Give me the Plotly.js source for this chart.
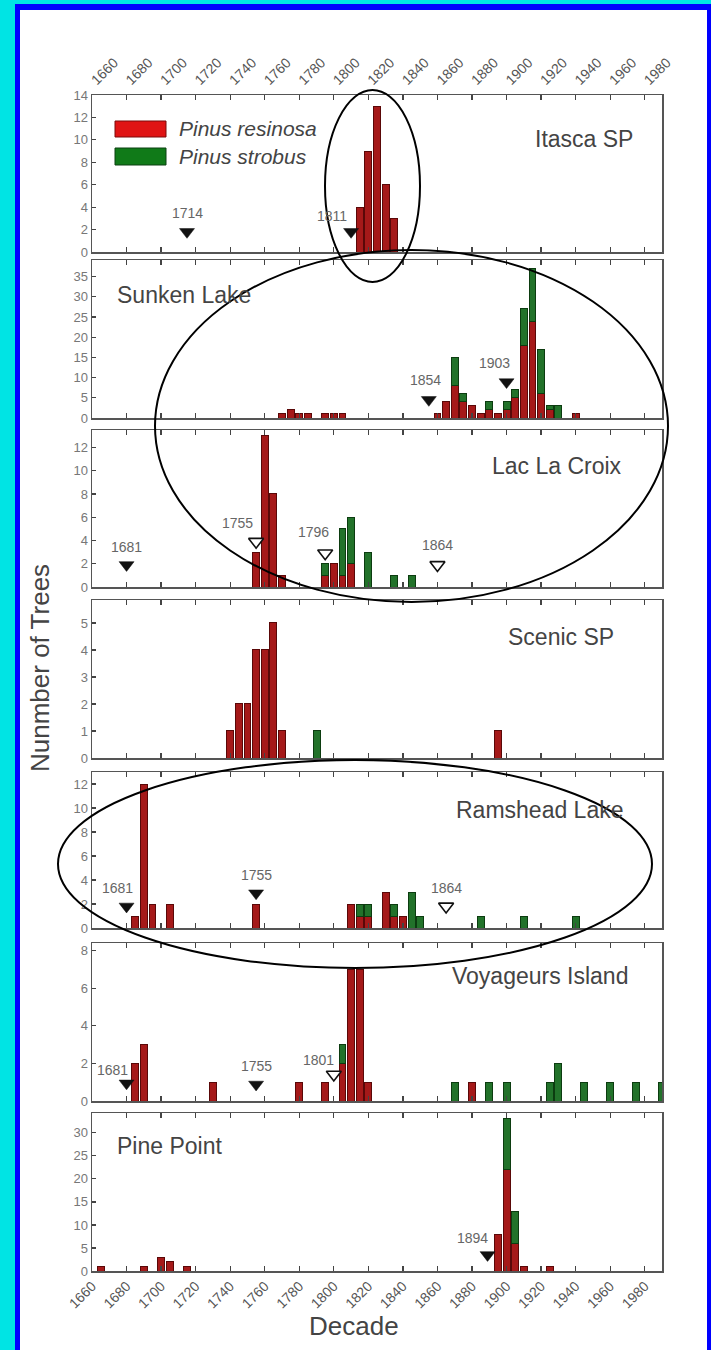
<!DOCTYPE html>
<html><head><meta charset="utf-8">
<script src="https://cdn.plot.ly/plotly-3.0.1.min.js"></script>
<style>
html,body{margin:0;padding:0;background:#00e4e4;width:711px;height:1350px;overflow:hidden;}
#frame{position:absolute;left:15px;top:4px;width:696px;height:1346px;box-sizing:border-box;background:#fff;border-left:5px solid #0000ff;border-top:6px solid #0000ff;border-right:4px solid #0000ff;}
#chart{position:absolute;left:0;top:0;width:711px;height:1350px;}
</style></head><body><div id="frame"></div><div id="chart"></div>
<script>
// ---------------- DATA ----------------
const siteNames = ['Itasca SP','Sunken Lake','Lac La Croix','Scenic SP','Ramshead Lake','Voyageurs Island','Pine Point'];
const speciesNames = ['Pinus resinosa','Pinus strobus'];
const xTickLabels = [1660,1680,1700,1720,1740,1760,1780,1800,1820,1840,1860,1880,1900,1920,1940,1960,1980];

const itascaYears = [1815,1820,1825,1830,1835];
const itascaRes   = [4,9,13,6,3];
const itascaStr   = [0,0,0,0,0];

const sunkenYears = [1770,1775,1780,1785,1795,1800,1805,1860,1865,1870,1875,1880,1885,1890,1895,1900,1905,1910,1915,1920,1925,1930,1940];
const sunkenRes   = [1,2,1,1,1,1,1,1,4,8,4,3,1,2,1,2,5,18,24,6,2,0,1];
const sunkenStr   = [0,0,0,0,0,0,0,0,0,7,2,0,0,2,0,2,2,9,13,11,1,3,0];

const lacYears = [1755,1760,1765,1770,1795,1800,1805,1810,1820,1835,1845];
const lacRes   = [3,13,8,1,1,2,1,2,0,0,0];
const lacStr   = [0,0,0,0,1,0,4,4,3,1,1];

const scenicYears = [1740,1745,1750,1755,1760,1765,1770,1790,1895];
const scenicRes   = [1,2,2,4,4,5,1,0,1];
const scenicStr   = [0,0,0,0,0,0,0,1,0];

const ramsYears = [1685,1690,1695,1705,1755,1810,1815,1820,1830,1835,1840,1845,1850,1885,1910,1940];
const ramsRes   = [1,12,2,2,2,2,1,1,3,1,1,0,0,0,0,0];
const ramsStr   = [0,0,0,0,0,0,1,1,0,1,0,3,1,1,1,1];

const voyYears = [1685,1690,1730,1780,1795,1805,1810,1815,1820,1870,1880,1890,1900,1925,1930,1945,1960,1975,1990];
const voyRes   = [2,3,1,1,1,2,7,7,1,0,1,0,0,0,0,0,0,0,0];
const voyStr   = [0,0,0,0,0,1,0,0,0,1,0,1,1,1,2,1,1,1,1];

const pineYears = [1665,1690,1700,1705,1715,1895,1900,1905,1910,1925];
const pineRes   = [1,1,3,2,1,8,22,6,1,1];
const pineStr   = [0,0,0,0,0,0,11,7,0,0];

// event markers: position, height, filled?, label, label position
const itascaMarkX = [1715,1810], itascaMarkY = [1.8,1.8], itascaMarkFill = [true,true];
const itascaLabel = ['1714','1811'], itascaLabelX = [1715,1799], itascaLabelY = [3.5,3.2];
const sunkenMarkX = [1855,1900], sunkenMarkY = [4.5,8.9], sunkenMarkFill = [true,true];
const sunkenLabel = ['1854','1903'], sunkenLabelX = [1853,1893], sunkenLabelY = [9.5,13.6];
const lacMarkX = [1680,1755,1795,1860], lacMarkY = [1.9,3.9,2.9,1.9], lacMarkFill = [true,false,false,false];
const lacLabel = ['1681','1755','1796','1864'], lacLabelX = [1680,1744,1788,1860], lacLabelY = [3.4,5.5,4.7,3.6];
const scenicMarkX = [], scenicMarkY = [], scenicMarkFill = [];
const scenicLabel = [], scenicLabelX = [], scenicLabelY = [];
const ramsMarkX = [1680,1755,1865], ramsMarkY = [1.8,2.9,1.8], ramsMarkFill = [true,true,false];
const ramsLabel = ['1681','1755','1864'], ramsLabelX = [1675,1755,1865], ramsLabelY = [3.3,4.4,3.3];
const voyMarkX = [1680,1755,1800], voyMarkY = [0.94,0.88,1.41], voyMarkFill = [true,true,false];
const voyLabel = ['1681','1755','1801'], voyLabelX = [1672,1755,1791], voyLabelY = [1.64,1.86,2.17];
const pineMarkX = [1889], pineMarkY = [3.5], pineMarkFill = [true];
const pineLabel = ['1894'], pineLabelX = [1880], pineLabelY = [7.1];

// ---------------- STYLE / LAYOUT ----------------
const RED = '#a51919', REDLINE = '#5a0808';
const GREEN = '#22722a', GREENLINE = '#0c3c10';
const W = 711, H = 1350, L = 92, R = 662, T = 95, B = 1271;
// panel pixel extents (top, bottom)
const panelPx = [[95,252],[260,418],[430,587],[600,758],[772,928],[943,1101],[1113,1271]];
const yMax = [14, 39.1, 13.5, 5.85, 13, 8.4, 34.3];
const yDtick = [2, 5, 2, 1, 2, 2, 5];
const nameAlign = ['right','left','right','right','right','right','left'];
const nameXpx = [635, 115, 624, 616, 626, 630, 115];
const nameYpx = [139, 295, 466, 637, 810, 976, 1146];

const panels = [
  [itascaYears,itascaRes,itascaStr,itascaMarkX,itascaMarkY,itascaMarkFill,itascaLabel,itascaLabelX,itascaLabelY],
  [sunkenYears,sunkenRes,sunkenStr,sunkenMarkX,sunkenMarkY,sunkenMarkFill,sunkenLabel,sunkenLabelX,sunkenLabelY],
  [lacYears,lacRes,lacStr,lacMarkX,lacMarkY,lacMarkFill,lacLabel,lacLabelX,lacLabelY],
  [scenicYears,scenicRes,scenicStr,scenicMarkX,scenicMarkY,scenicMarkFill,scenicLabel,scenicLabelX,scenicLabelY],
  [ramsYears,ramsRes,ramsStr,ramsMarkX,ramsMarkY,ramsMarkFill,ramsLabel,ramsLabelX,ramsLabelY],
  [voyYears,voyRes,voyStr,voyMarkX,voyMarkY,voyMarkFill,voyLabel,voyLabelX,voyLabelY],
  [pineYears,pineRes,pineStr,pineMarkX,pineMarkY,pineMarkFill,pineLabel,pineLabelX,pineLabelY]
];

const px2x = p => (p - L) / (R - L);
const px2y = p => (B - p) / (B - T);

const FONT = 'Liberation Sans, Arial, sans-serif';
const traces = [], annotations = [], shapes = [];
const layout = {
  width: W, height: H,
  margin: {l: L, r: W - R, t: T, b: H - B, pad: 0},
  paper_bgcolor: 'rgba(0,0,0,0)', plot_bgcolor: '#ffffff',
  barmode: 'stack', bargap: 0, showlegend: false,
  font: {family: FONT, color: '#555'},
  annotations: annotations, shapes: shapes
};

panels.forEach((p, i) => {
  const k = i === 0 ? '' : String(i + 1);
  const xa = 'x' + k, ya = 'y' + k;
  const [yrs, res, str, mx, my, mf, lab, lx, ly] = p;
  traces.push({type: 'bar', x: yrs, y: res.map(v => v || null), xaxis: xa, yaxis: ya, width: 4,
    name: speciesNames[0], marker: {color: RED, line: {color: REDLINE, width: 1}}, hoverinfo: 'x+y'});
  traces.push({type: 'bar', x: yrs, y: str.map(v => v || null), xaxis: xa, yaxis: ya, width: 4,
    name: speciesNames[1], marker: {color: GREEN, line: {color: GREENLINE, width: 1}}, hoverinfo: 'x+y'});
  if (mx.length) {
    traces.push({type: 'scatter', mode: 'markers', x: mx, y: my, xaxis: xa, yaxis: ya, cliponaxis: false,
      marker: {symbol: 'triangle-down', size: 13, color: mf.map(f => f ? '#111' : '#fff'),
               line: {color: '#111', width: mf.map(f => f ? 0.5 : 1.6)}}, hoverinfo: 'skip'});
    lab.forEach((t, j) => annotations.push({xref: xa, yref: ya, x: lx[j], y: ly[j], text: t, showarrow: false,
      font: {size: 14, color: '#666', family: FONT}, xanchor: 'center', yanchor: 'middle'}));
  }
  const [top, bot] = panelPx[i];
  layout['xaxis' + k] = {
    anchor: ya, domain: [0, 1], range: [1660, 1990], tickvals: xTickLabels, ticktext: xTickLabels.map(String),
    ticks: 'inside', ticklen: 5, tickwidth: 1.2, tickcolor: '#444', showline: true, linecolor: '#555', linewidth: 1.5,
    mirror: 'ticks', showgrid: false, zeroline: false,
    showticklabels: (i === 0 || i === 6), side: i === 0 ? 'top' : 'bottom', tickangle: -45,
    tickfont: {size: 14, color: '#555', family: FONT}
  };
  if (i > 0) layout['xaxis' + k].matches = 'x';
  layout['yaxis' + k] = {
    anchor: xa, domain: [(B - bot) / (B - T), (B - top) / (B - T)], range: [0, yMax[i]], dtick: yDtick[i], tick0: 0,
    ticks: 'inside', ticklen: 4, tickwidth: 1.2, tickcolor: '#444', showline: true, linecolor: '#555', linewidth: 1.5,
    mirror: true, showgrid: false, zeroline: false, tickfont: {size: 13, color: '#777', family: FONT}
  };
  annotations.push({xref: 'paper', yref: 'paper', x: px2x(nameXpx[i]), y: px2y(nameYpx[i]), text: siteNames[i],
    showarrow: false, xanchor: nameAlign[i], yanchor: 'middle', font: {size: 23, color: '#444', family: FONT}});
});

// legend (drawn in the Itasca panel)
const legSwatchPx = [[115,166,121,137],[115,166,148,165]];
const legColors = [['#e01414','#7a0a0a'],['#107a18','#0a4010']];
const legTextY = [129, 156.5];
legSwatchPx.forEach((s, j) => {
  shapes.push({type: 'rect', xref: 'paper', yref: 'paper', x0: px2x(s[0]), x1: px2x(s[1]), y0: px2y(s[3]), y1: px2y(s[2]),
    fillcolor: legColors[j][0], line: {color: legColors[j][1], width: 1}});
  annotations.push({xref: 'paper', yref: 'paper', x: px2x(177), y: px2y(legTextY[j]), text: '<i>' + speciesNames[j] + '</i>',
    showarrow: false, xanchor: 'left', yanchor: 'middle', font: {size: 21, color: '#444', family: FONT}});
});

// hand-drawn ellipses (pixel boxes)
const ellipsesPx = [[325,420,90,282],[155,668,250,602],[58,652,760,968]];
ellipsesPx.forEach(e => shapes.push({type: 'circle', xref: 'paper', yref: 'paper',
  x0: px2x(e[0]), x1: px2x(e[1]), y0: px2y(e[3]), y1: px2y(e[2]), line: {color: '#000', width: 2}, layer: 'above'}));

// axis titles
annotations.push({xref: 'paper', yref: 'paper', x: px2x(40), y: px2y(668), text: 'Nunmber of Trees', textangle: -90,
  showarrow: false, xanchor: 'center', yanchor: 'middle', font: {size: 26, color: '#444', family: FONT}});
annotations.push({xref: 'paper', yref: 'paper', x: px2x(354), y: px2y(1326), text: 'Decade',
  showarrow: false, xanchor: 'center', yanchor: 'middle', font: {size: 26, color: '#444', family: FONT}});

Plotly.newPlot('chart', traces, layout, {displayModeBar: false, staticPlot: true});
</script></body></html>
